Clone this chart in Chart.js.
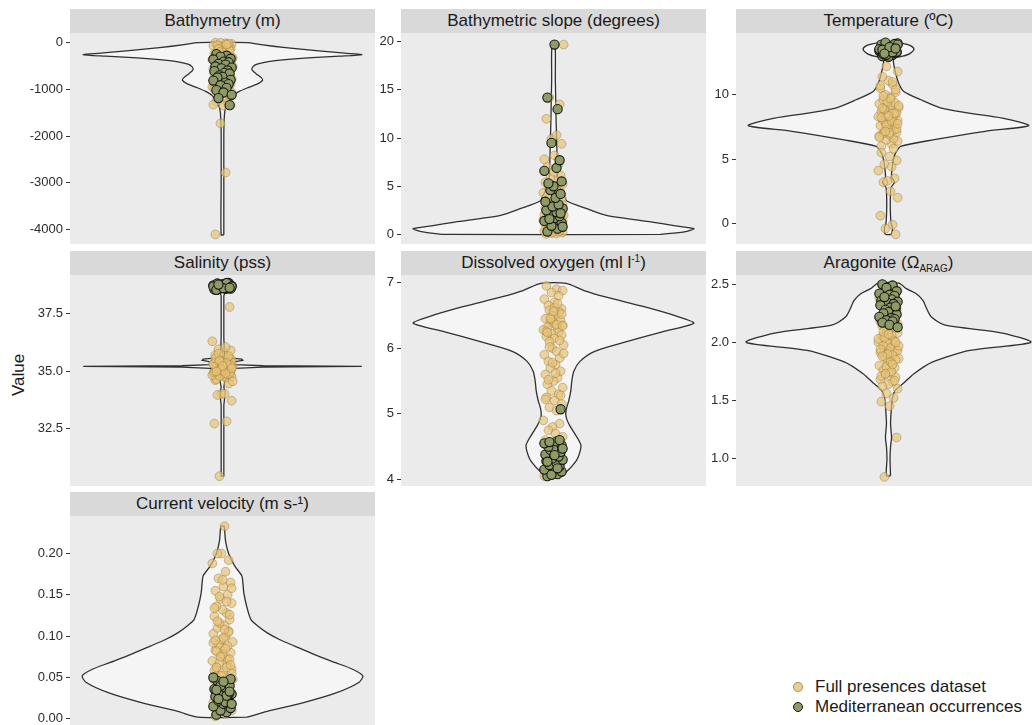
<!DOCTYPE html>
<html>
<head>
<meta charset="utf-8">
<script src="https://cdn.jsdelivr.net/npm/chart.js@4.4.1/dist/chart.umd.min.js"></script>
<style>
html,body{margin:0;padding:0;background:#ffffff;overflow:hidden;width:1032px;height:725px;}
body{position:relative;font-family:"Liberation Sans",Arial,Helvetica,sans-serif;}
.strip{position:absolute;background:#D9D9D9;color:#1A1A1A;font-size:17px;text-align:center;height:24px;line-height:24px;white-space:nowrap;}
.strip sup{font-size:10px;line-height:0;vertical-align:6px;}
.strip sub{font-size:10px;line-height:0;vertical-align:-4px;}
canvas{position:absolute;}
.ylab{position:absolute;left:19px;top:375px;transform:translate(-50%,-50%) rotate(-90deg);font-size:17px;color:#1A1A1A;white-space:nowrap;}
.legdot{position:absolute;width:8px;height:8px;border-radius:50%;}
.legtxt{position:absolute;font-size:17px;color:#1A1A1A;line-height:20px;white-space:nowrap;}
</style>
</head>
<body>
<div class="ylab">Value</div>
<script>
// ---------- DATA ----------
const panelTitles = ["Bathymetry (m)", "Bathymetric slope (degrees)", "Temperature (ºC)",
  "Salinity (pss)", "Dissolved oxygen (ml l<sup>-1</sup>)", "Aragonite (Ω<sub>ARAG</sub>)",
  "Current velocity (m s-¹)"];
const legendLabels = ["Full presences dataset", "Mediterranean occurrences"];

// jitter offsets (horizontal) for the points
const jitFull = [-7,3,9,-2,5,-9,1,-5,8,-4, 6,-1,2,-8,7,-3,0,9,-6,4, -10,5,-2,8,-7,1,-4,10,-1,3,
  -9,6,-5,2,-3,7,-8,4,0,-6, 9,-2,5,-7,1,8,-4,3,-10,6, -1,-5,2,9,-8,4,-3,7,0,-6,
  5,-9,1,8,-2,3,-7,6,-4,10, -1,2,-5,7,-8,4,-3,9,0,-6];
const jitMed = [-6,4,-2,8,-9,1,6,-4,3,-7, 9,-1,5,-8,2,7,-3,0,-5,8, -9,3,6,-2,4,-6,1,9,-4,7];

// Bathymetry
const bathyViolinY = [-4110,-3000,-2000,-1651,-1438,-1331,-1224,-1138,-1053,-967,-882,-807,-753,-668,-583,-519,-466,-412,-370,-327,-295,-263,-230,-177,-113,-50,-5];
const bathyViolinW = [1.3,1.3,1.3,1.6,2.5,4,7,10,16,25,35,39.5,38,33,29,30,34,45,62,88,115,137,120,92,62,38,24];
const bathyFull = [-8,-22,-35,-12,-48,-70,-95,-60,-130,-155,-110,-185,-210,-240,-175,-265,-290,-320,-250,-345,
  -370,-300,-395,-420,-455,-380,-480,-510,-440,-540,-565,-600,-520,-630,-660,-580,-690,-720,-750,-640,
  -780,-805,-700,-830,-860,-890,-760,-920,-950,-980,-840,-1010,-1040,-1070,-900,-1100,-1130,-1170,-1210,-1260,
  -1300,-1330,-1350,-1345,-1730,-2780,-4100,-25,-140,-330,-470,-615,-735,-870,-990,-45,-205,-355,-505,-1080];
const bathyMed = [-250,-285,-305,-350,-365,-410,-425,-460,-475,-515,-540,-555,-600,-615,-650,-665,-705,-735,-750,-800,
  -815,-860,-890,-915,-970,-1020,-1070,-1120,-1190,-1340];
const bathyTicks = [0,-1000,-2000,-3000,-4000];
const bathyTickLabels = ["0","-1000","-2000","-3000","-4000"];

// Bathymetric slope
const slopeViolinY = [0,0.3,0.6,0.9,1.28,1.98,2.7,3.47,3.92,4.6,5.3,6.06,8,10,12,14,16,19.8];
const slopeViolinW = [105,130,138,120,97,52,32,13,11,7.5,5,4,3.5,3,2.5,2.2,1.8,1.5];
const slopeFull = [0.05,0.1,0.2,0.15,0.3,0.35,0.5,0.45,0.6,0.7,0.8,0.75,0.9,1.0,1.1,0.95,1.2,1.3,1.25,1.4,
  1.5,1.6,1.45,1.7,1.8,1.9,1.75,2.0,2.1,2.2,2.05,2.3,2.4,2.5,2.35,2.6,2.7,2.8,2.9,3.0,
  3.1,3.2,3.35,3.5,3.6,3.8,3.95,4.1,4.3,4.5,4.7,4.9,5.0,5.2,5.4,5.6,5.9,6.1,6.5,7.0,
  7.3,7.8,8.2,9.4,9.9,10.3,12.0,13.5,14.2,19.7,0.25,0.55,0.85,1.15,1.35,1.65,2.15,2.45,2.75,0.4];
const slopeMed = [0.3,0.6,0.9,1.2,1.4,1.7,1.9,2.1,2.3,2.5,2.7,2.9,3.1,3.4,3.8,4.2,4.6,5.0,5.3,5.5,
  6.6,6.9,7.7,9.5,13.0,14.2,19.7,0.8,1.6,2.2];
const slopeTicks = [0,5,10,15,20];
const slopeTickLabels = ["0","5","10","15","20"];

// Temperature
const tempViolinY = [-0.85,-0.4,0,1,2,2.8,3.2,3.6,4.2,5.0,5.48,5.99,6.51,7.16,7.6,8.19,8.58,8.97,9.61,10.26,10.9,11.68,12.46,12.84,13.0,13.2,13.54,13.8,13.95,14.05];
const tempViolinW = [3,4,2.5,1.8,1.8,2.5,6,3,3.5,5,7,12,45,95,138,112,79,52,32,15,10,7,5,5,14,21,25,22,16,9];
const tempFull = [6.0,6.2,6.4,6.5,6.6,6.8,6.9,7.0,7.1,7.2,7.3,7.4,7.5,7.6,7.7,7.8,7.9,8.0,8.1,8.2,
  8.3,8.4,8.5,8.6,8.7,8.8,8.9,9.0,9.1,9.2,9.3,9.4,9.6,9.8,10.0,10.2,10.5,10.8,11.1,11.4,
  11.8,12.2,5.8,5.5,5.2,4.9,4.6,4.4,4.1,3.5,3.3,3.2,2.5,2.0,0.6,-0.1,-0.4,-0.85,13.2,13.5,
  13.8,6.7,7.05,7.35,7.65,7.95,8.25,8.55,8.85,9.15,9.45,9.7,9.9,10.4,10.7,11.0,7.15,7.75,8.35,8.95];
const tempMed = [13.0,13.1,13.2,13.3,13.4,13.5,13.6,13.7,13.8,13.9,14.0,13.05,13.25,13.45,13.65,13.85,14.05,12.95,13.15,13.35,
  13.55,13.75,13.95,13.1,13.3,13.5,13.7,13.9,13.2,13.6];
const tempTicks = [0,5,10];
const tempTickLabels = ["0","5","10"];

// Salinity
const salViolinY = [30.4,33.5,34.0,34.3,34.6,34.75,34.85,34.95,35.05,35.12,35.17,35.2,35.23,35.28,35.36,35.42,35.47,35.52,35.56,35.62,35.8,36.5,37.8,38.3,38.45,38.55,38.65,38.78,38.85];
const salViolinW = [1.3,1.3,2.5,1.3,2.5,3,7,9.5,10,12,40,137,40,12,10,14,20,19,8,2.5,1.8,1.3,1.3,1.3,3,8,11,12,11];
const salFull = [34.6,34.7,34.75,34.8,34.85,34.9,34.95,35.0,35.05,35.1,35.15,35.2,35.25,35.3,35.35,35.4,35.45,35.5,34.65,34.72,
  34.82,34.88,34.92,34.98,35.02,35.08,35.12,35.18,35.22,35.28,35.32,35.38,35.42,35.48,34.78,34.86,34.96,35.06,35.16,35.26,
  35.36,35.46,35.6,35.7,35.8,35.9,35.95,36.05,36.3,34.45,34.0,33.95,34.0,33.7,32.7,32.8,30.4,37.8,35.0,35.1,
  35.2,35.3,35.15,35.25,35.05,34.9,35.55,35.65,35.75,34.55,38.6,38.7,38.8,38.65,38.75,35.35,35.45,35.12,35.22,34.98];
const salMed = [38.55,38.6,38.65,38.7,38.75,38.8,38.85,38.58,38.62,38.68,38.72,38.78,38.82,38.57,38.63,38.67,38.73,38.77,38.83,38.6,
  38.7,38.8,38.65,38.75,38.85,38.55,38.62,38.7,38.78,38.64];
const salTicks = [32.5,35.0,37.5];
const salTickLabels = ["32.5","35.0","37.5"];

// Dissolved oxygen
const oxyViolinY = [4.05,4.12,4.2,4.3,4.42,4.52,4.62,4.72,4.82,4.92,5.0,5.1,5.2,5.35,5.5,5.65,5.8,5.95,6.1,6.25,6.38,6.48,6.63,6.78,6.88,6.99];
const oxyViolinW = [9,13,18,23,26,27,24,20,16,13,12,13,15,17,18,20,26,40,72,107,138,123,90,52,30,12.5];
const oxyFull = [6.95,6.9,6.88,6.85,6.8,6.75,6.7,6.65,6.6,6.58,6.55,6.5,6.48,6.45,6.42,6.4,6.38,6.35,6.32,6.3,
  6.28,6.25,6.22,6.2,6.18,6.15,6.1,6.05,6.0,5.95,5.9,5.85,5.8,5.75,5.7,5.65,5.6,5.55,5.5,5.45,
  5.4,5.35,5.3,5.25,5.2,5.15,5.1,5.05,4.9,4.85,4.8,4.75,4.7,4.65,4.6,4.55,4.5,4.4,4.3,4.2,
  4.1,4.05,6.62,6.52,6.44,6.36,6.26,6.12,6.02,5.92,5.78,5.62,5.52,5.28,5.22,6.68,6.46,6.34,6.56,6.24];
const oxyMed = [4.05,4.08,4.1,4.12,4.15,4.18,4.2,4.22,4.25,4.28,4.3,4.32,4.35,4.38,4.4,4.42,4.45,4.48,4.5,4.52,
  4.55,4.58,4.6,4.07,4.17,4.27,4.37,4.47,4.57,5.07];
const oxyTicks = [4,5,6,7];
const oxyTickLabels = ["4","5","6","7"];

// Aragonite
const aragViolinY = [0.85,1.0,1.1,1.18,1.3,1.45,1.53,1.59,1.65,1.73,1.83,1.93,2.0,2.08,2.15,2.22,2.3,2.36,2.42,2.46,2.51];
const aragViolinW = [2,1.5,2,3,2,3,4,7,15,25,43,80,140,112,55,42,37,34,27,18,10];
const aragFull = [2.5,2.48,2.45,2.42,2.4,2.38,2.35,2.32,2.3,2.28,2.25,2.22,2.2,2.18,2.15,2.12,2.1,2.08,2.05,2.02,
  2.0,1.98,1.96,1.94,1.92,1.9,1.88,1.86,1.84,1.82,1.8,1.78,1.76,1.74,1.72,1.7,1.68,1.66,1.64,1.62,
  1.6,1.56,1.52,1.49,1.45,1.18,0.84,2.06,2.03,2.01,1.99,1.97,1.95,1.93,1.91,1.89,1.87,1.85,2.11,2.14,
  2.17,2.21,2.24,2.27,1.79,1.75,1.71,1.67,2.04,1.97,1.9,1.83,2.09,2.0,1.94,1.81,1.73,2.16,2.07,1.88];
const aragMed = [2.5,2.49,2.47,2.44,2.42,2.41,2.4,2.38,2.37,2.36,2.35,2.34,2.33,2.32,2.3,2.29,2.28,2.26,2.25,2.24,
  2.22,2.21,2.2,2.19,2.18,2.17,2.15,2.13,2.39,2.31];
const aragTicks = [1.0,1.5,2.0,2.5];
const aragTickLabels = ["1.0","1.5","2.0","2.5"];

// Current velocity
const curViolinY = [0.002,0.009,0.019,0.031,0.044,0.052,0.06,0.068,0.078,0.088,0.096,0.104,0.112,0.12,0.135,0.152,0.165,0.173,0.185,0.2,0.215,0.233];
const curViolinW = [24,44,78,111,134,138,128,111,90,71,56,44,35,28,24,21,20,19,12,6,3,1.5];
const curFull = [0.003,0.006,0.01,0.013,0.016,0.02,0.023,0.026,0.03,0.033,0.036,0.04,0.043,0.046,0.05,0.053,0.056,0.06,0.063,0.066,
  0.07,0.073,0.076,0.08,0.083,0.086,0.09,0.093,0.096,0.1,0.103,0.106,0.11,0.113,0.116,0.12,0.124,0.128,0.132,0.136,
  0.14,0.145,0.15,0.155,0.16,0.165,0.17,0.178,0.188,0.192,0.2,0.2,0.233,0.055,0.058,0.062,0.068,0.072,0.078,0.082,
  0.088,0.092,0.098,0.065,0.075,0.085,0.095,0.105,0.045,0.048,0.052,0.108,0.118,0.126,0.134,0.142,0.148,0.158,0.168,0.062];
const curMed = [0.005,0.008,0.01,0.013,0.015,0.018,0.02,0.022,0.025,0.027,0.03,0.032,0.034,0.036,0.038,0.04,0.042,0.044,0.046,0.048,
  0.05,0.02,0.03,0.04,0.028,0.035,0.045,0.018,0.024,0.033];
const curTicks = [0,0.05,0.1,0.15,0.2];
const curTickLabels = ["0.00","0.05","0.10","0.15","0.20"];

// ---------- LAYOUT / STYLE ----------
const FONT = '"Liberation Sans", Arial, Helvetica, sans-serif';
const colLeft = [70, 401, 736];
const rowTop = [9, 251, 492];
const STRIP_H = 24, PLOT_H = 211, PANEL_W = 305, AXIS_W = 70;

const panels = [
  {vy:bathyViolinY, vw:bathyViolinW, full:bathyFull, med:bathyMed, ticks:bathyTicks, labels:bathyTickLabels, min:-4305, max:200, col:0, row:0, tension:0.25},
  {vy:slopeViolinY, vw:slopeViolinW, full:slopeFull, med:slopeMed, ticks:slopeTicks, labels:slopeTickLabels, min:-0.99, max:20.9, col:1, row:0, tension:0.25},
  {vy:tempViolinY, vw:tempViolinW, full:tempFull, med:tempMed, ticks:tempTicks, labels:tempTickLabels, min:-1.6, max:14.8, col:2, row:0, tension:0.25},
  {vy:salViolinY, vw:salViolinW, full:salFull, med:salMed, ticks:salTicks, labels:salTickLabels, min:29.97, max:39.2, col:0, row:1, tension:0},
  {vy:oxyViolinY, vw:oxyViolinW, full:oxyFull, med:oxyMed, ticks:oxyTicks, labels:oxyTickLabels, min:3.9, max:7.117, col:1, row:1, tension:0.25},
  {vy:aragViolinY, vw:aragViolinW, full:aragFull, med:aragMed, ticks:aragTicks, labels:aragTickLabels, min:0.762, max:2.58, col:2, row:1, tension:0.25},
  {vy:curViolinY, vw:curViolinW, full:curFull, med:curMed, ticks:curTicks, labels:curTickLabels, min:-0.0099, max:0.2454, col:0, row:2, tension:0.25}
];

const panelBg = {
  id: 'panelBg',
  beforeDraw(chart) {
    const {ctx, chartArea: a} = chart;
    ctx.save();
    ctx.fillStyle = '#EBEBEB';
    ctx.fillRect(a.left, a.top, a.right - a.left, a.bottom - a.top);
    ctx.restore();
  }
};

panels.forEach((p, idx) => {
  const left = colLeft[p.col], top = rowTop[p.row];
  const strip = document.createElement('div');
  strip.className = 'strip';
  strip.style.left = left + 'px';
  strip.style.top = top + 'px';
  strip.style.width = PANEL_W + 'px';
  strip.innerHTML = panelTitles[idx];
  document.body.appendChild(strip);

  const cv = document.createElement('canvas');
  cv.width = AXIS_W + PANEL_W;
  cv.height = PLOT_H;
  cv.style.left = (left - AXIS_W) + 'px';
  cv.style.top = (top + STRIP_H) + 'px';
  cv.style.width = cv.width + 'px';
  cv.style.height = cv.height + 'px';
  document.body.appendChild(cv);

  const right = p.vy.map((y, i) => ({x: p.vw[i], y: y}));
  const leftSide = p.vy.map((y, i) => ({x: -p.vw[i], y: y})).reverse();
  const violin = right.concat(leftSide, [right[0]]);
  const fullPts = p.full.map((y, i) => ({x: jitFull[i % jitFull.length], y: y}));
  const medPts = p.med.map((y, i) => ({x: jitMed[i % jitMed.length], y: y}));

  new Chart(cv, {
    type: 'scatter',
    data: {
      datasets: [
        {label: 'violin', data: violin, showLine: true, fill: 'shape', backgroundColor: '#F5F5F5',
         borderColor: '#303030', borderWidth: 1.3, pointRadius: 0, tension: p.tension, order: 3},
        {label: legendLabels[0], data: fullPts, showLine: false, pointRadius: 4.4,
         backgroundColor: 'rgba(230,195,118,0.68)', borderColor: 'rgba(145,118,62,0.55)', borderWidth: 0.8, order: 2},
        {label: legendLabels[1], data: medPts, showLine: false, pointRadius: 4.6,
         backgroundColor: '#8F9B67', borderColor: '#151515', borderWidth: 1.1, order: 1}
      ]
    },
    options: {
      responsive: false, animation: false, devicePixelRatio: 1,
      layout: {padding: 0, autoPadding: false},
      plugins: {legend: {display: false}, tooltip: {enabled: false}, title: {display: false}},
      scales: {
        x: {type: 'linear', min: -150, max: 150, display: false},
        y: {
          type: 'linear', position: 'left', min: p.min, max: p.max,
          afterBuildTicks: s => { s.ticks = p.ticks.map(v => ({value: v})); },
          afterFit: s => { s.width = AXIS_W; s.paddingTop = 0; s.paddingBottom = 0; },
          ticks: {
            autoSkip: false, padding: 3, color: '#2B2B2B',
            font: {family: FONT, size: 13},
            callback: (v) => { const k = p.ticks.indexOf(v); return k >= 0 ? p.labels[k] : ''; }
          },
          grid: {drawOnChartArea: false, drawTicks: true, tickLength: 4, color: '#333333', lineWidth: 1},
          border: {display: false}
        }
      }
    },
    plugins: [panelBg]
  });
});

// legend
const legColors = [['rgba(230,195,118,0.8)', 'rgba(145,118,62,0.7)'], ['#8F9B67', '#151515']];
const legY = [687, 707];
legendLabels.forEach((t, i) => {
  const d = document.createElement('div');
  d.className = 'legdot';
  d.style.left = (798 - 5) + 'px';
  d.style.top = (legY[i] - 5) + 'px';
  d.style.background = legColors[i][0];
  d.style.border = '1px solid ' + legColors[i][1];
  document.body.appendChild(d);
  const s = document.createElement('div');
  s.className = 'legtxt';
  s.style.left = '815px';
  s.style.top = (legY[i] - 10) + 'px';
  s.textContent = t;
  document.body.appendChild(s);
});
</script>
</body>
</html>
